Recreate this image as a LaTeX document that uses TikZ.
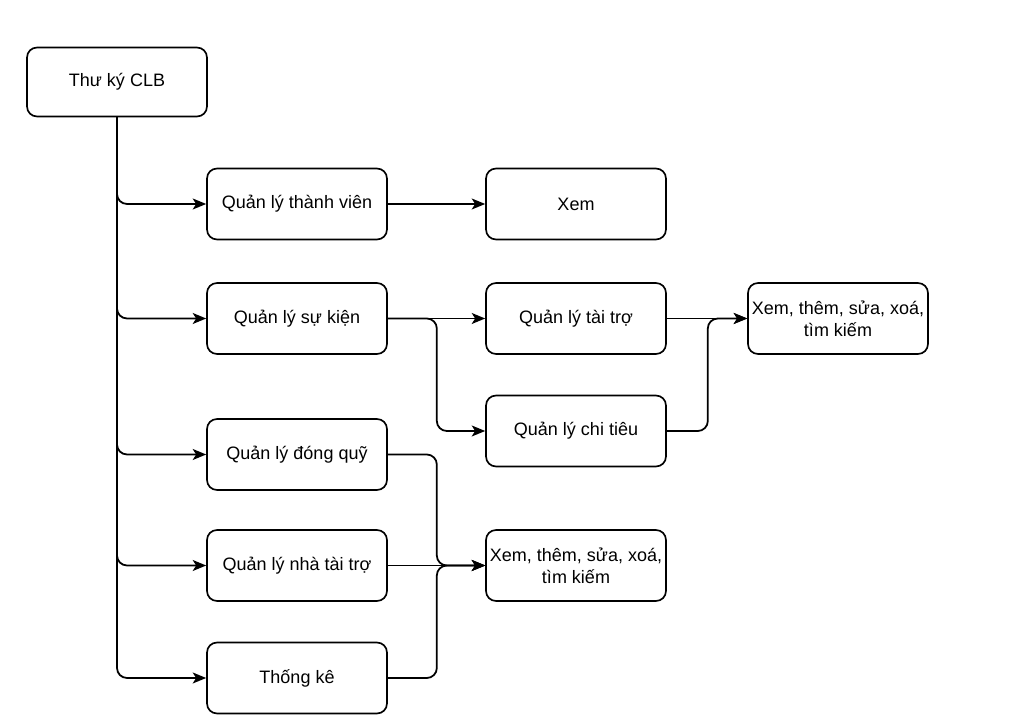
\documentclass[tikz,border=0pt]{standalone}
\usepackage{fontspec}
\setmainfont{Liberation Sans}
\usetikzlibrary{arrows.meta,calc}

\begin{document}
\begin{tikzpicture}[x=0.02cm,y=-0.02cm]
            \tikzset{Box/.style={draw,line width=0.95pt,rounded corners=0.2cm,
                minimum width=3.6cm,minimum height=1.42cm,inner xsep=1pt,align=center,
                font=\fontsize{10.25pt}{12.4pt}\selectfont}};
            \tikzset{EdgeStyle/.style={line width=1pt,rounded corners=0.2cm,
                -{Stealth[length=0.27cm,width=0.22cm,inset=0.07cm]}}};
            \useasboundingbox (0,0) rectangle (1011,715);

            \node[Box,minimum height=1.38cm] (thuky) at (117,82){Thư ký CLB};

            \node[Box] (thanhvien) at (297,204){Quản lý thành viên};
            \node[Box] (sukien) at (297,318.5){Quản lý sự kiện};
            \node[Box] (dongquy) at (297,454.5){Quản lý đóng quỹ};
            \node[Box] (nhataitro) at (297,565.5){Quản lý nhà tài trợ};
            \node[Box] (thongke) at (297,678){Thống kê};

            \node[Box] (xem) at (576,204){Xem};
            \node[Box] (taitro) at (576,318.5){Quản lý tài trợ};
            \node[Box] (chitieu) at (576,431){Quản lý chi tiêu};
            \node[Box] (qlxem) at (576,565.5){Xem, thêm, sửa, xoá,\\tìm kiếm};

            \node[Box] (skxem) at (838,318.5){Xem, thêm, sửa, xoá,\\tìm kiếm};

            \draw[EdgeStyle] (thuky.south) |- (thanhvien.west);
            \draw[EdgeStyle] (thuky.south) |- (sukien.west);
            \draw[EdgeStyle] (thuky.south) |- (dongquy.west);
            \draw[EdgeStyle] (thuky.south) |- (nhataitro.west);
            \draw[EdgeStyle] (thuky.south) |- (thongke.west);

            \draw[EdgeStyle] (thanhvien.east) -- (xem.west);
            \draw[EdgeStyle] (sukien.east) -- (taitro.west);
            \draw[EdgeStyle] (sukien.east) -- ++(49,0) |- (chitieu.west);
            \draw[EdgeStyle] (taitro.east) -- (skxem.west);
            \draw[EdgeStyle] (chitieu.east) -- ++(41,0) |- (skxem.west);

            \draw[EdgeStyle] (dongquy.east) -- ++(49,0) |- (qlxem.west);
            \draw[EdgeStyle] (nhataitro.east) -- (qlxem.west);
            \draw[EdgeStyle] (thongke.east) -- ++(49,0) |- (qlxem.west);
\end{tikzpicture}
\end{document}
